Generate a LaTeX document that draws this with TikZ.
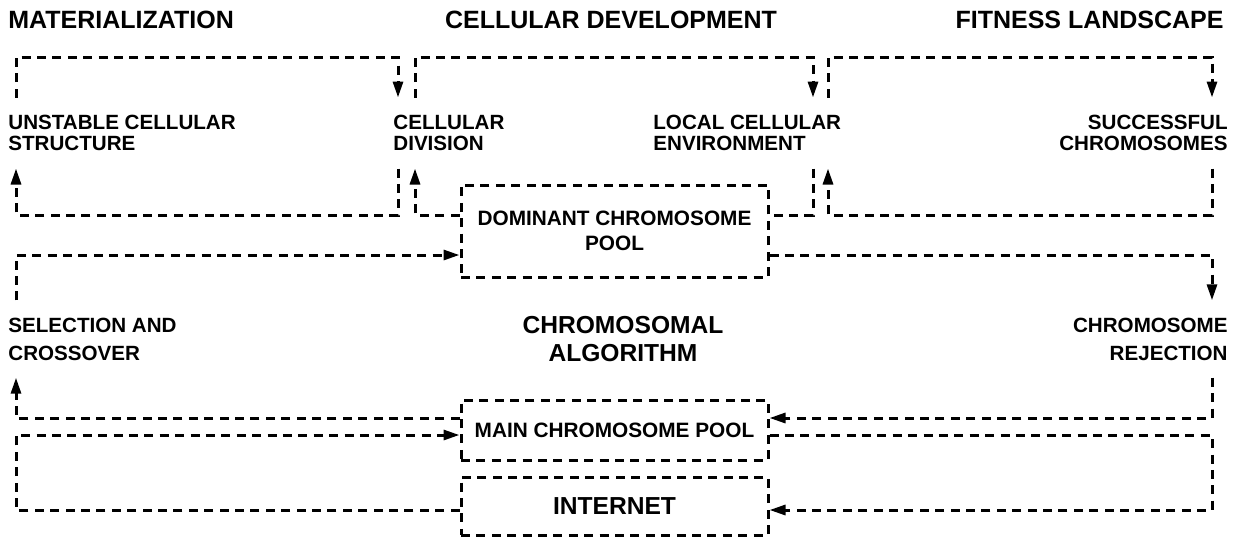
\documentclass[tikz,border=0pt]{standalone}
\usepackage{fontspec}
\setmainfont{Liberation Sans}
\usetikzlibrary{arrows.meta}

\tikzset{
  link/.style={line width=1.5pt, dash pattern=on 4.5pt off 3.2pt},
  flow/.style={link, -{Triangle[length=8pt,width=5pt]}},
  headline/.style={font=\fontsize{12.5}{14}\selectfont\bfseries, inner sep=0pt},
  stagetext/.style={font=\fontsize{10.3}{10.8}\selectfont\bfseries, inner xsep=0pt, inner ysep=8.5pt},
  sidetext/.style={font=\fontsize{10.3}{14}\selectfont\bfseries, inner xsep=0pt, inner ysep=8.5pt},
  poolbox/.style={link, draw, minimum width=153.5pt, align=center,
    font=\fontsize{10.4}{12.5}\selectfont\bfseries}
}

\begin{document}
\begin{tikzpicture}[x=0.5pt, y=-0.5pt]
    \useasboundingbox (0,0) rectangle (1238,543);

    % Headings
    \node[headline, anchor=west] (tmat) at (8,20) {MATERIALIZATION};
    \node[headline] (tdev) at (611,20) {CELLULAR DEVELOPMENT};
    \node[headline, anchor=east] (tfit) at (1224,20) {FITNESS LANDSCAPE};
    \node[headline, align=center, font=\fontsize{12.3}{14}\selectfont\bfseries] (algo) at (623,339) {CHROMOSOMAL\\ALGORITHM};

    % Stages of the upper loops
    \node[stagetext, anchor=west, align=left] (unstable) at (8,133) {UNSTABLE CELLULAR\\STRUCTURE};
    \node[stagetext, anchor=west, align=left] (division) at (393,133) {CELLULAR\\DIVISION};
    \node[stagetext, anchor=west, align=left] (local) at (653,133) {LOCAL CELLULAR\\ENVIRONMENT};
    \node[stagetext, anchor=east, align=right] (success) at (1228,133) {SUCCESSFUL\\CHROMOSOMES};

    % Stages at the sides
    \node[sidetext, anchor=west, align=left] (selection) at (8,339) {SELECTION AND\\CROSSOVER};
    \node[sidetext, anchor=east, align=right] (rejection) at (1228,339) {CHROMOSOME\\REJECTION};

    % Pools
    \node[poolbox, minimum height=46pt] (dom) at (614.5,231) {DOMINANT CHROMOSOME\\POOL};
    \node[poolbox, minimum height=30pt] (main) at (614.5,430) {MAIN CHROMOSOME POOL};
    \node[poolbox, minimum height=29pt, font=\fontsize{12.3}{14}\selectfont\bfseries] (net) at (614.5,506) {INTERNET};

    % Columns and levels of the connectors
    \coordinate (xa) at (16,0);
    \coordinate (xb) at (398,0);
    \coordinate (xc) at (415,0);
    \coordinate (xd) at (813,0);
    \coordinate (xe) at (828,0);
    \coordinate (xf) at (1212,0);
    \coordinate (top) at (0,57);
    \coordinate (bot) at (0,215);
    \coordinate (mid) at (0,255);
    \coordinate (lo1) at (0,418);
    \coordinate (lo2) at (0,435);
    \coordinate (lo3) at (0,510);

    % Materialization loop
    \draw[flow] (unstable.north -| xa) -- (xa |- top) -- (xb |- top) -- (division.north -| xb);
    \draw[flow] (division.south -| xb) -- (xb |- bot) -- (xa |- bot) -- (unstable.south -| xa);

    % Cellular development loop
    \draw[flow] (division.north -| xc) -- (xc |- top) -- (xd |- top) -- (local.north -| xd);
    \draw[flow] (dom.west |- bot) -- (xc |- bot) -- (division.south -| xc);
    \draw[link] (local.south -| xd) -- (xd |- bot) -- (dom.east |- bot);

    % Fitness landscape loop
    \draw[flow] (local.north -| xe) -- (xe |- top) -- (xf |- top) -- (success.north -| xf);
    \draw[flow] (success.south -| xf) -- (xf |- bot) -- (xe |- bot) -- (local.south -| xe);

    % Chromosomal algorithm
    \draw[flow] (selection.north -| xa) -- (xa |- mid) -- (dom.west |- mid);
    \draw[flow] (dom.east |- mid) -- (xf |- mid) -- (rejection.north -| xf);
    \draw[flow] (main.west |- lo1) -- (xa |- lo1) -- (selection.south -| xa);
    \draw[flow] (rejection.south -| xf) -- (xf |- lo1) -- (main.east |- lo1);
    \draw[flow] (net.west |- lo3) -- (xa |- lo3) -- (xa |- lo2) -- (main.west |- lo2);
    \draw[flow] (main.east |- lo2) -- (xf |- lo2) -- (xf |- lo3) -- (net.east |- lo3);
\end{tikzpicture}
\end{document}
